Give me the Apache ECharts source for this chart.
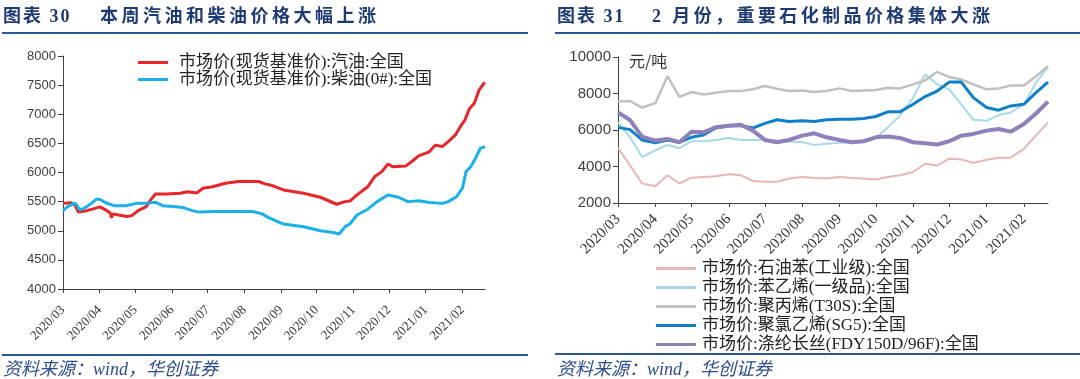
<!DOCTYPE html>
<html><head><meta charset="utf-8">
<script src="https://cdn.jsdelivr.net/npm/echarts@6/dist/echarts.min.js"></script>
<style>
html,body{margin:0;padding:0;background:#fff;}
#wrap{position:relative;width:1080px;height:379px;overflow:hidden;background:#fff;}
#chart{position:absolute;left:0;top:0;width:1080px;height:379px;}
.t{position:absolute;font-family:"Liberation Serif","Noto Sans CJK SC",serif;font-weight:bold;font-size:18px;color:#1f3b73;white-space:nowrap;line-height:20px;}
.rule{position:absolute;height:2.5px;background:#2e5597;}
.src{position:absolute;font-family:"Liberation Serif","Noto Sans CJK SC",serif;font-style:italic;font-size:18px;color:#2e4e8e;white-space:nowrap;line-height:20px;}
</style></head>
<body><div id="wrap"><div id="chart"></div>
<div class="t" style="left:3px;top:6px;letter-spacing:2px">图表 30</div>
<div class="t" style="left:100px;top:6px;letter-spacing:3.5px">本周汽油和柴油价格大幅上涨</div>
<div class="t" style="left:557px;top:6px;letter-spacing:2px">图表 31</div>
<div class="t" style="left:652px;top:6px;letter-spacing:3.4px">2 月份，重要石化制品价格集体大涨</div>
<div class="rule" style="left:2px;top:31.5px;width:526px"></div>
<div class="rule" style="left:555px;top:31.5px;width:525px"></div>
<div class="rule" style="left:2px;top:353.5px;width:526px"></div>
<div class="rule" style="left:555px;top:352.5px;width:525px"></div>
<div class="src" style="left:3px;top:359px">资料来源：wind，华创证券</div>
<div class="src" style="left:557px;top:359px">资料来源：wind，华创证券</div>
</div>
<script>
// ---- Left chart: gasoline & diesel ----
const gasDates = ['2020/03/01','2020/03/08','2020/03/11','2020/03/14','2020/03/21','2020/03/28','2020/04/01','2020/04/06','2020/04/10','2020/04/11','2020/04/12','2020/04/17','2020/04/24','2020/04/28','2020/05/04','2020/05/10','2020/05/14','2020/05/18','2020/05/27','2020/06/08','2020/06/14','2020/06/22','2020/06/27','2020/07/05','2020/07/16','2020/07/27','2020/08/13','2020/08/19','2020/08/24','2020/09/03','2020/09/20','2020/10/04','2020/10/18','2020/10/25','2020/10/29','2020/11/04','2020/11/13','2020/11/19','2020/11/25','2020/11/30','2020/12/04','2020/12/15','2020/12/20','2020/12/26','2021/01/04','2021/01/09','2021/01/15','2021/01/20','2021/01/26','2021/02/01','2021/02/03','2021/02/07','2021/02/11','2021/02/15','2021/02/19','2021/02/20'];
const gasPrice = [5470,5480,5445,5320,5345,5385,5410,5360,5300,5220,5290,5270,5245,5260,5355,5410,5530,5630,5630,5645,5670,5650,5730,5755,5815,5845,5845,5800,5780,5700,5645,5575,5455,5500,5510,5615,5755,5930,6015,6145,6100,6110,6185,6285,6355,6470,6445,6530,6645,6845,6900,7100,7190,7415,7530,7545];
const dieselDates = ['2020/03/01','2020/03/05','2020/03/10','2020/03/12','2020/03/15','2020/03/19','2020/03/25','2020/03/29','2020/04/01','2020/04/06','2020/04/13','2020/04/23','2020/05/02','2020/05/10','2020/05/18','2020/05/24','2020/06/02','2020/06/10','2020/06/18','2020/06/24','2020/07/08','2020/07/22','2020/08/08','2020/08/16','2020/08/21','2020/09/03','2020/09/20','2020/10/04','2020/10/15','2020/10/20','2020/10/25','2020/10/29','2020/11/04','2020/11/13','2020/11/21','2020/11/30','2020/12/09','2020/12/17','2020/12/26','2021/01/04','2021/01/15','2021/01/20','2021/01/27','2021/02/01','2021/02/04','2021/02/08','2021/02/12','2021/02/16','2021/02/20'];
const dieselPrice = [5345,5415,5470,5460,5360,5385,5470,5540,5540,5480,5430,5430,5470,5470,5490,5430,5415,5400,5345,5320,5330,5330,5330,5290,5230,5115,5070,5000,4970,4945,5070,5115,5270,5370,5500,5615,5575,5500,5515,5485,5470,5500,5585,5730,6015,6100,6245,6415,6445];
const leftNames = ['市场价(现货基准价):汽油:全国','市场价(现货基准价):柴油(0#):全国'];
const leftColors = ['#e6262b','#1cb0e8'];

// ---- Right chart: petrochemicals (ten-day data) ----
const chemDates = ['2020/03/01','2020/03/11','2020/03/21','2020/04/01','2020/04/11','2020/04/21','2020/05/01','2020/05/11','2020/05/21','2020/06/01','2020/06/11','2020/06/21','2020/07/01','2020/07/11','2020/07/21','2020/08/01','2020/08/11','2020/08/21','2020/09/01','2020/09/11','2020/09/21','2020/10/01','2020/10/11','2020/10/21','2020/11/01','2020/11/11','2020/11/21','2020/12/01','2020/12/11','2020/12/21','2021/01/01','2021/01/11','2021/01/21','2021/02/01','2021/02/11','2021/02/21'];
const benzene = [5020,4060,3070,2920,3520,3070,3390,3430,3470,3575,3520,3210,3160,3160,3340,3430,3375,3340,3430,3375,3340,3285,3430,3520,3700,4150,4060,4425,4390,4190,4370,4480,4480,4970,5690,6420];
const styrene = [6420,5600,4520,4880,5190,5000,5385,5385,5455,5565,5455,5455,5455,5420,5365,5330,5185,5240,5295,5330,5420,5565,6145,6780,7775,9040,8500,8225,7410,6560,6505,6815,6960,7410,8590,9440];
const polypropylene = [7560,7590,7230,7470,8950,7810,8080,7950,8045,8140,8140,8230,8410,8260,8140,8170,8080,8140,8280,8140,8170,8190,8320,8280,8500,8720,9190,8900,8770,8500,8230,8280,8440,8440,8950,9490];
const pvc = [6145,6020,5455,5295,5455,5330,5600,5730,6110,6235,6235,6110,6360,6560,6470,6505,6470,6560,6595,6595,6635,6740,6995,6995,7410,7830,8135,8625,8625,7775,7230,7085,7320,7410,8045,8625];
const fdy = [6960,6545,5640,5420,5510,5330,5910,5875,6145,6235,6290,5965,5455,5330,5455,5690,5820,5600,5455,5330,5385,5600,5640,5565,5330,5275,5205,5385,5690,5785,5965,6055,5910,6325,6905,7555];
const rightNames = ['市场价:石油苯(工业级):全国','市场价:苯乙烯(一级品):全国','市场价:聚丙烯(T30S):全国','市场价:聚氯乙烯(SG5):全国','市场价:涤纶长丝(FDY150D/96F):全国'];
const rightSeries = [benzene, styrene, polypropylene, pvc, fdy];
const rightColors = ['#e8b6b6','#a6d8ea','#c0c0c0','#0f80c8','#8f80ba'];
const rightWidths = [2,2,2.5,3,4];

const pair = (dates, vals) => dates.map((d, i) => [d, vals[i]]);
const pad = n => (n < 10 ? '0' : '') + n;
const monthLabel = v => { const d = new Date(v); return d.getFullYear() + '/' + pad(d.getMonth() + 1); };
const DAY = 86400000;

function timeAxis(gi, min, max, size, margin) {
  return {
    type: 'time', gridIndex: gi, min: min, max: max, splitNumber: 12,
    minInterval: 28 * DAY, maxInterval: 31 * DAY,
    axisLine: { lineStyle: { color: '#404040', width: 1 } },
    axisTick: { show: true, length: 4, lineStyle: { color: '#404040' } },
    axisLabel: { rotate: 45, formatter: monthLabel, fontFamily: 'Liberation Serif', fontSize: size, color: '#333', margin: margin, hideOverlap: false },
    splitLine: { show: false }, minorTick: { show: false }
  };
}
function valAxis(gi, min, max, interval, size) {
  return {
    type: 'value', gridIndex: gi, min: min, max: max, interval: interval,
    axisLine: { show: true, lineStyle: { color: '#404040', width: 1 } },
    axisTick: { show: true, length: 5, lineStyle: { color: '#404040' } },
    axisLabel: { fontFamily: 'Liberation Sans', fontSize: size, color: '#404040', margin: 7, formatter: v => String(v) },
    splitLine: { show: false }
  };
}

const chart = echarts.init(document.getElementById('chart'), null, { renderer: 'canvas' });
const series = [];
[[gasDates, gasPrice], [dieselDates, dieselPrice]].forEach((s, i) => {
  series.push({ name: leftNames[i], type: 'line', xAxisIndex: 0, yAxisIndex: 0, data: pair(s[0], s[1]), symbol: 'none', showSymbol: false, lineStyle: { color: leftColors[i], width: 3 }, itemStyle: { color: leftColors[i] }, animation: false });
});
rightSeries.forEach((vals, i) => {
  series.push({ name: rightNames[i], type: 'line', xAxisIndex: 1, yAxisIndex: 1, data: pair(chemDates, vals), symbol: 'none', showSymbol: false, lineStyle: { color: rightColors[i], width: rightWidths[i] }, itemStyle: { color: rightColors[i] }, animation: false });
});

chart.setOption({
  animation: false,
  grid: [
    { left: 63, top: 56, right: 595, bottom: 90, outerBoundsMode: 'none' },
    { left: 618, top: 57, right: 32, bottom: 176, outerBoundsMode: 'none' }
  ],
  xAxis: [
    timeAxis(0, +new Date(2020, 2, 1), +new Date(2021, 1, 20), 13, 19),
    timeAxis(1, +new Date(2020, 2, 1), +new Date(2021, 1, 21), 15, 14)
  ],
  yAxis: [
    valAxis(0, 4000, 8000, 500, 13),
    valAxis(1, 2000, 10000, 2000, 15)
  ],
  legend: [
    { data: leftNames.map((n, i) => ({ name: n, icon: 'rect', itemStyle: { color: leftColors[i] } })),
      orient: 'vertical', left: 133, top: 49, itemWidth: 30, itemHeight: 3, itemGap: 0,
      textStyle: { fontSize: 17, fontFamily: 'Liberation Serif, Noto Sans CJK SC', color: '#222', lineHeight: 14, padding: [0, 0, 0, 6] }, selectedMode: false },
    { data: rightNames.map((n, i) => ({ name: n, icon: 'rect', itemStyle: { color: rightColors[i] } })),
      orient: 'vertical', left: 651, top: 255, itemWidth: 40, itemHeight: 3, itemGap: 2,
      textStyle: { fontSize: 17, fontFamily: 'Liberation Serif, Noto Sans CJK SC', color: '#222', lineHeight: 15, padding: [0, 0, 0, 1] }, selectedMode: false }
  ],
  graphic: [
    { type: 'text', left: 629, top: 53, style: { text: '元/吨', fontSize: 16, fontFamily: 'Noto Sans CJK SC', fill: '#333' } }
  ],
  series: series
});
</script>
</body></html>
